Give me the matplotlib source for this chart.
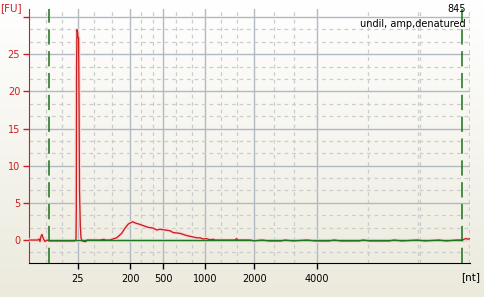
import matplotlib
matplotlib.use("Agg")
import matplotlib.pyplot as plt
import numpy as np

# electropherogram trace: migration time (s) vs fluorescence (FU)
time_s = [20.0, 20.9, 21.0, 21.1, 21.2, 21.3, 21.4, 21.5, 21.6, 21.8, 22.0, 22.6, 23.6, 24.6,
          24.7, 24.73, 24.76, 24.8, 24.86, 24.9, 24.96, 25.0, 25.05, 25.13, 25.2, 25.3, 25.5,
          25.7, 25.8, 27.1, 27.5, 27.6, 28.1, 28.3, 28.77, 29.27, 29.6, 29.93, 30.27, 30.4,
          30.6, 31.1, 31.5, 31.93, 32.43, 32.77, 33.1, 33.6, 34.1, 34.43, 35.1, 35.77, 36.27,
          36.77, 37.1, 37.43, 37.7, 38.1, 38.43, 38.6, 40.6, 40.75, 40.9, 42.1, 42.5, 43.3,
          44.0, 45.2, 45.6, 46.4, 47.8, 48.6, 50.0, 50.5, 51.2, 53.0, 53.4, 54.1, 56.0, 56.5,
          57.3, 58.8, 59.6, 61.0, 61.7, 62.8, 63.3, 63.5, 63.7, 63.9, 64.1]
fu = [0.0, 0.0, 0.15, -0.2, 0.5, 0.75, 0.3, 0.05, -0.2, 0.0, -0.12, -0.12, -0.12, -0.12,
      0.1, 4.0, 23.4, 28.3, 28.0, 27.3, 27.2, 19.4, 6.7, 2.0, 0.3, -0.1, -0.2,
      -0.2, 0.0, 0.0, 0.1, 0.0, 0.0, 0.1, 0.3, 0.9, 1.6, 2.15, 2.4, 2.45,
      2.3, 2.1, 1.9, 1.7, 1.6, 1.35, 1.45, 1.35, 1.25, 1.0, 0.9, 0.6, 0.45,
      0.3, 0.3, 0.13, 0.2, 0.05, 0.1, 0.0, 0.0, 0.2, 0.0, 0.0, -0.12, 0.0,
      -0.12, -0.12, 0.0, -0.12, 0.0, -0.12, -0.12, 0.0, -0.12, -0.12, 0.0, -0.12, -0.12, 0.0,
      -0.12, 0.0, -0.12, 0.0, -0.12, 0.0, 0.0, 0.1, 0.2, 0.1, 0.2]

# ladder positions (s) and their sizes
ladder_time = [24.87, 30.13, 33.43, 37.63, 42.53, 48.77]
ladder_nt = ["25", "200", "500", "1000", "2000", "4000"]
minor_time = [21.67, 23.27, 26.53, 28.27, 31.23, 32.37, 34.7, 36.27, 39.23, 40.83,
              44.53, 46.53, 53.87, 58.9, 59.1, 64.03]

fu_ticks = [0, 5, 10, 15, 20, 25, 30]
fu_labels = ["0", "5", "10", "15", "20", "25", ""]

lower_marker = 22.0
upper_marker = 63.33

sample_id = "845"
sample_name = "undil, amp,denatured"

fig = plt.figure(figsize=(4.85, 2.97), dpi=100)

# light vertical gradient behind everything
bg = fig.add_axes([0, 0, 1, 1])
grad = np.linspace(0, 1, 256).reshape(-1, 1)
top = np.array([1.0, 1.0, 1.0])
bottom = np.array([0.925, 0.918, 0.866])
img = top + (bottom - top) * grad[:, :, None]
bg.imshow(img, aspect="auto", extent=[0, 1, 0, 1])
bg.axis("off")

ax = fig.add_axes([29 / 485, 1 - 263.3 / 297, 441 / 485, 254.3 / 297])
ax.set_facecolor("none")
ax.set_xlim(20, 64.1)
ax.set_ylim(-3.13, 31.08)

ax.set_xticks(ladder_time)
ax.set_xticklabels(ladder_nt)
ax.set_xticks(minor_time, minor=True)
ax.set_yticks(fu_ticks)
ax.set_yticklabels(fu_labels)
ax.set_yticks(np.arange(-5 / 3, 31, 5 / 3), minor=True)

ax.grid(which="major", color="#b3b9c3", lw=1.0)
ax.grid(which="minor", color="#cccccc", lw=0.9, linestyle=(0, (3, 3)))
ax.set_axisbelow(True)

ax.tick_params(axis="x", which="major", direction="out", length=4.3, width=1,
               colors="black", labelsize=7, pad=3.2)
ax.tick_params(axis="y", which="major", direction="out", length=4.3, width=1,
               colors="#cc2020", labelsize=7, pad=2)
ax.tick_params(which="minor", length=0)

for s in ["top", "right"]:
    ax.spines[s].set_visible(False)
ax.spines["left"].set_color("#cc2020")
ax.spines["bottom"].set_color("black")

# trace with soft halo
ax.plot(time_s, fu, color="#fadada", lw=2.6, solid_joinstyle="round", zorder=3)
ax.plot(time_s, fu, color="#c81e1e", lw=0.95, zorder=4)

# baseline and markers
ax.plot([lower_marker, upper_marker], [0, 0], color="#c6e6c6", lw=2.4, zorder=2)
ax.plot([lower_marker, upper_marker], [0, 0], color="#1f761f", lw=1.0, zorder=5)
for m in [lower_marker, upper_marker]:
    ax.axvline(m, color="#1a701a", lw=1.1, dashes=(10, 4.3), zorder=5)

fig.text(466 / 485, 1 - 8.5 / 297, sample_id, ha="right", va="center", fontsize=7)
fig.text(466 / 485, 1 - 24 / 297, sample_name, ha="right", va="center", fontsize=7)
fig.text(0.0, 1 - 8.5 / 297, "[FU]", ha="left", va="center", fontsize=7.5, color="#cc2020")
fig.text(471 / 485, 1 - 277 / 297, "[nt]", ha="center", va="center", fontsize=7.5)

fig.savefig("out.png", dpi=100)
